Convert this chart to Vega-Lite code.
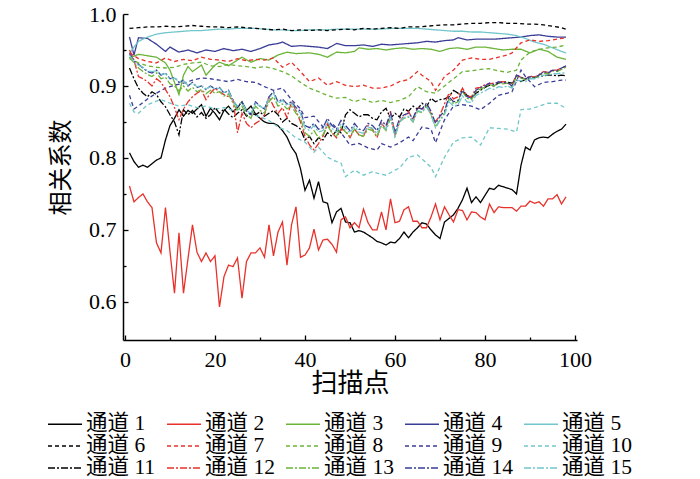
{
"$schema":"https://vega.github.io/schema/vega-lite/v6.json",
"width":454,"height":326,
"autosize":{"type":"none"},
"padding":{"left":123,"top":14,"right":123,"bottom":139},
"background":"white",
"config":{"view":{"stroke":null},
"axis":{"grid":false,"domainColor":"black","domainWidth":1.5,"tickColor":"black","tickWidth":1.3,"labelFont":"Liberation Serif","labelFontSize":22,"labelColor":"black","titleFont":"Noto Sans CJK SC","titleFontWeight":"normal","titleColor":"black"},
"legend":{"labelFont":"Liberation Serif, Noto Sans CJK SC","labelFontSize":21.5,"labelColor":"black"}},
"data":{"values":[
{"x":1,"s":1,"y":0.807},{"x":2,"s":1,"y":0.795},{"x":3,"s":1,"y":0.787},{"x":4,"s":1,"y":0.79},{"x":5,"s":1,"y":0.787},{"x":6,"s":1,"y":0.792},{"x":7,"s":1,"y":0.797},{"x":8,"s":1,"y":0.8},{"x":9,"s":1,"y":0.825},{"x":10,"s":1,"y":0.845},{"x":11,"s":1,"y":0.855},{"x":12,"s":1,"y":0.867},{"x":13,"s":1,"y":0.858},{"x":14,"s":1,"y":0.866},{"x":15,"s":1,"y":0.862},{"x":16,"s":1,"y":0.868},{"x":17,"s":1,"y":0.874},{"x":18,"s":1,"y":0.858},{"x":19,"s":1,"y":0.869},{"x":20,"s":1,"y":0.862},{"x":21,"s":1,"y":0.853},{"x":22,"s":1,"y":0.866},{"x":23,"s":1,"y":0.872},{"x":24,"s":1,"y":0.864},{"x":25,"s":1,"y":0.87},{"x":26,"s":1,"y":0.878},{"x":27,"s":1,"y":0.866},{"x":28,"s":1,"y":0.872},{"x":29,"s":1,"y":0.861},{"x":30,"s":1,"y":0.855},{"x":31,"s":1,"y":0.85},{"x":32,"s":1,"y":0.848},{"x":33,"s":1,"y":0.848},{"x":34,"s":1,"y":0.845},{"x":35,"s":1,"y":0.838},{"x":36,"s":1,"y":0.829},{"x":37,"s":1,"y":0.815},{"x":38,"s":1,"y":0.806},{"x":39,"s":1,"y":0.785},{"x":40,"s":1,"y":0.755},{"x":41,"s":1,"y":0.769},{"x":42,"s":1,"y":0.744},{"x":43,"s":1,"y":0.767},{"x":44,"s":1,"y":0.739},{"x":45,"s":1,"y":0.737},{"x":46,"s":1,"y":0.71},{"x":47,"s":1,"y":0.725},{"x":48,"s":1,"y":0.73},{"x":49,"s":1,"y":0.711},{"x":50,"s":1,"y":0.71},{"x":51,"s":1,"y":0.697},{"x":52,"s":1,"y":0.699},{"x":53,"s":1,"y":0.697},{"x":54,"s":1,"y":0.693},{"x":55,"s":1,"y":0.689},{"x":56,"s":1,"y":0.684},{"x":57,"s":1,"y":0.682},{"x":58,"s":1,"y":0.679},{"x":59,"s":1,"y":0.683},{"x":60,"s":1,"y":0.682},{"x":61,"s":1,"y":0.688},{"x":62,"s":1,"y":0.697},{"x":63,"s":1,"y":0.689},{"x":64,"s":1,"y":0.697},{"x":65,"s":1,"y":0.703},{"x":66,"s":1,"y":0.71},{"x":67,"s":1,"y":0.708},{"x":68,"s":1,"y":0.7},{"x":69,"s":1,"y":0.693},{"x":70,"s":1,"y":0.688},{"x":71,"s":1,"y":0.711},{"x":72,"s":1,"y":0.716},{"x":73,"s":1,"y":0.721},{"x":74,"s":1,"y":0.73},{"x":75,"s":1,"y":0.742},{"x":76,"s":1,"y":0.758},{"x":77,"s":1,"y":0.738},{"x":78,"s":1,"y":0.746},{"x":79,"s":1,"y":0.738},{"x":80,"s":1,"y":0.748},{"x":81,"s":1,"y":0.758},{"x":82,"s":1,"y":0.756},{"x":83,"s":1,"y":0.762},{"x":84,"s":1,"y":0.76},{"x":85,"s":1,"y":0.758},{"x":86,"s":1,"y":0.756},{"x":87,"s":1,"y":0.75},{"x":88,"s":1,"y":0.79},{"x":89,"s":1,"y":0.815},{"x":90,"s":1,"y":0.811},{"x":91,"s":1,"y":0.825},{"x":92,"s":1,"y":0.828},{"x":93,"s":1,"y":0.829},{"x":94,"s":1,"y":0.828},{"x":95,"s":1,"y":0.833},{"x":96,"s":1,"y":0.837},{"x":97,"s":1,"y":0.84},{"x":98,"s":1,"y":0.847},
{"x":1,"s":2,"y":0.761},{"x":2,"s":2,"y":0.739},{"x":3,"s":2,"y":0.745},{"x":4,"s":2,"y":0.75},{"x":5,"s":2,"y":0.739},{"x":6,"s":2,"y":0.731},{"x":7,"s":2,"y":0.682},{"x":8,"s":2,"y":0.668},{"x":9,"s":2,"y":0.731},{"x":10,"s":2,"y":0.67},{"x":11,"s":2,"y":0.612},{"x":12,"s":2,"y":0.696},{"x":13,"s":2,"y":0.612},{"x":14,"s":2,"y":0.66},{"x":15,"s":2,"y":0.707},{"x":16,"s":2,"y":0.669},{"x":17,"s":2,"y":0.656},{"x":18,"s":2,"y":0.668},{"x":19,"s":2,"y":0.656},{"x":20,"s":2,"y":0.664},{"x":21,"s":2,"y":0.593},{"x":22,"s":2,"y":0.635},{"x":23,"s":2,"y":0.651},{"x":24,"s":2,"y":0.649},{"x":25,"s":2,"y":0.661},{"x":26,"s":2,"y":0.605},{"x":27,"s":2,"y":0.656},{"x":28,"s":2,"y":0.668},{"x":29,"s":2,"y":0.668},{"x":30,"s":2,"y":0.675},{"x":31,"s":2,"y":0.662},{"x":32,"s":2,"y":0.707},{"x":33,"s":2,"y":0.664},{"x":34,"s":2,"y":0.697},{"x":35,"s":2,"y":0.711},{"x":36,"s":2,"y":0.651},{"x":37,"s":2,"y":0.707},{"x":38,"s":2,"y":0.732},{"x":39,"s":2,"y":0.662},{"x":40,"s":2,"y":0.665},{"x":41,"s":2,"y":0.675},{"x":42,"s":2,"y":0.701},{"x":43,"s":2,"y":0.672},{"x":44,"s":2,"y":0.686},{"x":45,"s":2,"y":0.687},{"x":46,"s":2,"y":0.68},{"x":47,"s":2,"y":0.669},{"x":48,"s":2,"y":0.714},{"x":49,"s":2,"y":0.718},{"x":50,"s":2,"y":0.703},{"x":51,"s":2,"y":0.71},{"x":52,"s":2,"y":0.703},{"x":53,"s":2,"y":0.729},{"x":54,"s":2,"y":0.71},{"x":55,"s":2,"y":0.7},{"x":56,"s":2,"y":0.7},{"x":57,"s":2,"y":0.725},{"x":58,"s":2,"y":0.7},{"x":59,"s":2,"y":0.743},{"x":60,"s":2,"y":0.71},{"x":61,"s":2,"y":0.712},{"x":62,"s":2,"y":0.728},{"x":63,"s":2,"y":0.732},{"x":64,"s":2,"y":0.712},{"x":65,"s":2,"y":0.712},{"x":66,"s":2,"y":0.703},{"x":67,"s":2,"y":0.703},{"x":68,"s":2,"y":0.718},{"x":69,"s":2,"y":0.736},{"x":70,"s":2,"y":0.714},{"x":71,"s":2,"y":0.732},{"x":72,"s":2,"y":0.721},{"x":73,"s":2,"y":0.711},{"x":74,"s":2,"y":0.728},{"x":75,"s":2,"y":0.727},{"x":76,"s":2,"y":0.714},{"x":77,"s":2,"y":0.725},{"x":78,"s":2,"y":0.724},{"x":79,"s":2,"y":0.718},{"x":80,"s":2,"y":0.714},{"x":81,"s":2,"y":0.736},{"x":82,"s":2,"y":0.724},{"x":83,"s":2,"y":0.732},{"x":84,"s":2,"y":0.731},{"x":85,"s":2,"y":0.731},{"x":86,"s":2,"y":0.731},{"x":87,"s":2,"y":0.726},{"x":88,"s":2,"y":0.733},{"x":89,"s":2,"y":0.733},{"x":90,"s":2,"y":0.74},{"x":91,"s":2,"y":0.737},{"x":92,"s":2,"y":0.739},{"x":93,"s":2,"y":0.733},{"x":94,"s":2,"y":0.743},{"x":95,"s":2,"y":0.743},{"x":96,"s":2,"y":0.749},{"x":97,"s":2,"y":0.736},{"x":98,"s":2,"y":0.746},
{"x":1,"s":3,"y":0.939},{"x":3,"s":3,"y":0.944},{"x":5,"s":3,"y":0.942},{"x":7,"s":3,"y":0.94},{"x":9,"s":3,"y":0.932},{"x":10,"s":3,"y":0.922},{"x":11,"s":3,"y":0.905},{"x":12,"s":3,"y":0.888},{"x":13,"s":3,"y":0.915},{"x":14,"s":3,"y":0.927},{"x":15,"s":3,"y":0.92},{"x":17,"s":3,"y":0.929},{"x":18,"s":3,"y":0.915},{"x":20,"s":3,"y":0.929},{"x":21,"s":3,"y":0.933},{"x":23,"s":3,"y":0.928},{"x":25,"s":3,"y":0.936},{"x":26,"s":3,"y":0.94},{"x":28,"s":3,"y":0.933},{"x":30,"s":3,"y":0.938},{"x":32,"s":3,"y":0.936},{"x":34,"s":3,"y":0.943},{"x":36,"s":3,"y":0.947},{"x":38,"s":3,"y":0.945},{"x":41,"s":3,"y":0.946},{"x":43,"s":3,"y":0.944},{"x":45,"s":3,"y":0.94},{"x":47,"s":3,"y":0.947},{"x":49,"s":3,"y":0.946},{"x":51,"s":3,"y":0.948},{"x":52,"s":3,"y":0.953},{"x":54,"s":3,"y":0.951},{"x":56,"s":3,"y":0.952},{"x":58,"s":3,"y":0.95},{"x":60,"s":3,"y":0.952},{"x":62,"s":3,"y":0.953},{"x":64,"s":3,"y":0.951},{"x":66,"s":3,"y":0.952},{"x":68,"s":3,"y":0.951},{"x":70,"s":3,"y":0.948},{"x":72,"s":3,"y":0.952},{"x":74,"s":3,"y":0.953},{"x":76,"s":3,"y":0.951},{"x":78,"s":3,"y":0.954},{"x":80,"s":3,"y":0.954},{"x":82,"s":3,"y":0.952},{"x":84,"s":3,"y":0.95},{"x":86,"s":3,"y":0.951},{"x":88,"s":3,"y":0.951},{"x":90,"s":3,"y":0.946},{"x":92,"s":3,"y":0.951},{"x":94,"s":3,"y":0.948},{"x":96,"s":3,"y":0.94},{"x":98,"s":3,"y":0.937},
{"x":1,"s":4,"y":0.968},{"x":2,"s":4,"y":0.943},{"x":3,"s":4,"y":0.967},{"x":5,"s":4,"y":0.966},{"x":7,"s":4,"y":0.958},{"x":9,"s":4,"y":0.948},{"x":10,"s":4,"y":0.954},{"x":12,"s":4,"y":0.947},{"x":14,"s":4,"y":0.95},{"x":16,"s":4,"y":0.946},{"x":18,"s":4,"y":0.95},{"x":20,"s":4,"y":0.948},{"x":22,"s":4,"y":0.952},{"x":24,"s":4,"y":0.949},{"x":26,"s":4,"y":0.951},{"x":28,"s":4,"y":0.948},{"x":30,"s":4,"y":0.952},{"x":32,"s":4,"y":0.957},{"x":34,"s":4,"y":0.959},{"x":35,"s":4,"y":0.961},{"x":37,"s":4,"y":0.955},{"x":39,"s":4,"y":0.956},{"x":41,"s":4,"y":0.955},{"x":43,"s":4,"y":0.954},{"x":45,"s":4,"y":0.952},{"x":47,"s":4,"y":0.959},{"x":49,"s":4,"y":0.956},{"x":51,"s":4,"y":0.956},{"x":53,"s":4,"y":0.957},{"x":55,"s":4,"y":0.955},{"x":57,"s":4,"y":0.958},{"x":59,"s":4,"y":0.957},{"x":61,"s":4,"y":0.958},{"x":63,"s":4,"y":0.959},{"x":65,"s":4,"y":0.96},{"x":67,"s":4,"y":0.962},{"x":69,"s":4,"y":0.961},{"x":71,"s":4,"y":0.963},{"x":73,"s":4,"y":0.964},{"x":74,"s":4,"y":0.967},{"x":76,"s":4,"y":0.964},{"x":78,"s":4,"y":0.965},{"x":80,"s":4,"y":0.965},{"x":82,"s":4,"y":0.965},{"x":84,"s":4,"y":0.966},{"x":86,"s":4,"y":0.967},{"x":88,"s":4,"y":0.968},{"x":90,"s":4,"y":0.97},{"x":92,"s":4,"y":0.971},{"x":94,"s":4,"y":0.969},{"x":96,"s":4,"y":0.968},{"x":98,"s":4,"y":0.968},
{"x":1,"s":5,"y":0.945},{"x":2,"s":5,"y":0.954},{"x":3,"s":5,"y":0.962},{"x":5,"s":5,"y":0.968},{"x":7,"s":5,"y":0.972},{"x":9,"s":5,"y":0.974},{"x":11,"s":5,"y":0.975},{"x":13,"s":5,"y":0.976},{"x":15,"s":5,"y":0.977},{"x":17,"s":5,"y":0.977},{"x":19,"s":5,"y":0.978},{"x":21,"s":5,"y":0.979},{"x":23,"s":5,"y":0.979},{"x":25,"s":5,"y":0.98},{"x":27,"s":5,"y":0.98},{"x":29,"s":5,"y":0.98},{"x":31,"s":5,"y":0.979},{"x":33,"s":5,"y":0.978},{"x":35,"s":5,"y":0.978},{"x":37,"s":5,"y":0.977},{"x":39,"s":5,"y":0.977},{"x":41,"s":5,"y":0.978},{"x":43,"s":5,"y":0.978},{"x":45,"s":5,"y":0.978},{"x":47,"s":5,"y":0.979},{"x":49,"s":5,"y":0.979},{"x":51,"s":5,"y":0.979},{"x":53,"s":5,"y":0.979},{"x":55,"s":5,"y":0.979},{"x":57,"s":5,"y":0.979},{"x":59,"s":5,"y":0.98},{"x":61,"s":5,"y":0.98},{"x":63,"s":5,"y":0.98},{"x":65,"s":5,"y":0.98},{"x":67,"s":5,"y":0.979},{"x":69,"s":5,"y":0.978},{"x":71,"s":5,"y":0.977},{"x":73,"s":5,"y":0.976},{"x":75,"s":5,"y":0.976},{"x":77,"s":5,"y":0.975},{"x":79,"s":5,"y":0.975},{"x":81,"s":5,"y":0.974},{"x":83,"s":5,"y":0.973},{"x":85,"s":5,"y":0.972},{"x":87,"s":5,"y":0.97},{"x":89,"s":5,"y":0.966},{"x":91,"s":5,"y":0.961},{"x":93,"s":5,"y":0.958},{"x":95,"s":5,"y":0.953},{"x":97,"s":5,"y":0.948},{"x":98,"s":5,"y":0.946},
{"x":1,"s":6,"y":0.98},{"x":3,"s":6,"y":0.981},{"x":5,"s":6,"y":0.982},{"x":7,"s":6,"y":0.982},{"x":9,"s":6,"y":0.983},{"x":11,"s":6,"y":0.982},{"x":13,"s":6,"y":0.983},{"x":15,"s":6,"y":0.984},{"x":17,"s":6,"y":0.983},{"x":19,"s":6,"y":0.982},{"x":21,"s":6,"y":0.982},{"x":23,"s":6,"y":0.981},{"x":25,"s":6,"y":0.982},{"x":27,"s":6,"y":0.981},{"x":29,"s":6,"y":0.98},{"x":31,"s":6,"y":0.979},{"x":33,"s":6,"y":0.978},{"x":35,"s":6,"y":0.979},{"x":37,"s":6,"y":0.977},{"x":39,"s":6,"y":0.978},{"x":41,"s":6,"y":0.977},{"x":43,"s":6,"y":0.978},{"x":45,"s":6,"y":0.977},{"x":47,"s":6,"y":0.978},{"x":49,"s":6,"y":0.979},{"x":51,"s":6,"y":0.978},{"x":53,"s":6,"y":0.98},{"x":55,"s":6,"y":0.979},{"x":57,"s":6,"y":0.98},{"x":59,"s":6,"y":0.981},{"x":61,"s":6,"y":0.98},{"x":63,"s":6,"y":0.982},{"x":65,"s":6,"y":0.982},{"x":67,"s":6,"y":0.983},{"x":69,"s":6,"y":0.984},{"x":71,"s":6,"y":0.985},{"x":73,"s":6,"y":0.985},{"x":75,"s":6,"y":0.986},{"x":77,"s":6,"y":0.987},{"x":79,"s":6,"y":0.987},{"x":81,"s":6,"y":0.988},{"x":83,"s":6,"y":0.988},{"x":85,"s":6,"y":0.987},{"x":87,"s":6,"y":0.987},{"x":89,"s":6,"y":0.986},{"x":91,"s":6,"y":0.986},{"x":93,"s":6,"y":0.985},{"x":95,"s":6,"y":0.983},{"x":97,"s":6,"y":0.981},{"x":98,"s":6,"y":0.979},
{"x":1,"s":7,"y":0.946},{"x":3,"s":7,"y":0.938},{"x":5,"s":7,"y":0.934},{"x":7,"s":7,"y":0.932},{"x":9,"s":7,"y":0.939},{"x":11,"s":7,"y":0.934},{"x":13,"s":7,"y":0.937},{"x":15,"s":7,"y":0.935},{"x":17,"s":7,"y":0.94},{"x":19,"s":7,"y":0.937},{"x":21,"s":7,"y":0.936},{"x":23,"s":7,"y":0.934},{"x":25,"s":7,"y":0.938},{"x":27,"s":7,"y":0.935},{"x":29,"s":7,"y":0.937},{"x":31,"s":7,"y":0.936},{"x":33,"s":7,"y":0.939},{"x":35,"s":7,"y":0.926},{"x":37,"s":7,"y":0.933},{"x":39,"s":7,"y":0.92},{"x":41,"s":7,"y":0.906},{"x":43,"s":7,"y":0.911},{"x":45,"s":7,"y":0.901},{"x":47,"s":7,"y":0.906},{"x":49,"s":7,"y":0.901},{"x":51,"s":7,"y":0.899},{"x":53,"s":7,"y":0.901},{"x":55,"s":7,"y":0.897},{"x":57,"s":7,"y":0.897},{"x":59,"s":7,"y":0.9},{"x":61,"s":7,"y":0.906},{"x":63,"s":7,"y":0.909},{"x":65,"s":7,"y":0.92},{"x":66,"s":7,"y":0.915},{"x":68,"s":7,"y":0.906},{"x":69,"s":7,"y":0.894},{"x":71,"s":7,"y":0.913},{"x":73,"s":7,"y":0.922},{"x":75,"s":7,"y":0.936},{"x":77,"s":7,"y":0.939},{"x":79,"s":7,"y":0.937},{"x":81,"s":7,"y":0.937},{"x":83,"s":7,"y":0.94},{"x":85,"s":7,"y":0.943},{"x":86,"s":7,"y":0.946},{"x":88,"s":7,"y":0.96},{"x":90,"s":7,"y":0.964},{"x":92,"s":7,"y":0.962},{"x":94,"s":7,"y":0.963},{"x":96,"s":7,"y":0.965},{"x":98,"s":7,"y":0.967},
{"x":1,"s":8,"y":0.938},{"x":3,"s":8,"y":0.932},{"x":5,"s":8,"y":0.928},{"x":7,"s":8,"y":0.926},{"x":9,"s":8,"y":0.925},{"x":11,"s":8,"y":0.926},{"x":13,"s":8,"y":0.93},{"x":15,"s":8,"y":0.932},{"x":17,"s":8,"y":0.933},{"x":19,"s":8,"y":0.928},{"x":21,"s":8,"y":0.927},{"x":23,"s":8,"y":0.93},{"x":25,"s":8,"y":0.928},{"x":27,"s":8,"y":0.927},{"x":29,"s":8,"y":0.925},{"x":31,"s":8,"y":0.927},{"x":33,"s":8,"y":0.924},{"x":35,"s":8,"y":0.92},{"x":37,"s":8,"y":0.914},{"x":39,"s":8,"y":0.905},{"x":41,"s":8,"y":0.897},{"x":43,"s":8,"y":0.892},{"x":45,"s":8,"y":0.887},{"x":47,"s":8,"y":0.883},{"x":49,"s":8,"y":0.884},{"x":51,"s":8,"y":0.878},{"x":53,"s":8,"y":0.882},{"x":55,"s":8,"y":0.877},{"x":57,"s":8,"y":0.88},{"x":59,"s":8,"y":0.877},{"x":61,"s":8,"y":0.88},{"x":63,"s":8,"y":0.885},{"x":65,"s":8,"y":0.899},{"x":67,"s":8,"y":0.892},{"x":69,"s":8,"y":0.89},{"x":71,"s":8,"y":0.9},{"x":73,"s":8,"y":0.91},{"x":75,"s":8,"y":0.92},{"x":77,"s":8,"y":0.921},{"x":79,"s":8,"y":0.923},{"x":81,"s":8,"y":0.924},{"x":83,"s":8,"y":0.921},{"x":85,"s":8,"y":0.919},{"x":87,"s":8,"y":0.922},{"x":88,"s":8,"y":0.936},{"x":90,"s":8,"y":0.947},{"x":92,"s":8,"y":0.951},{"x":94,"s":8,"y":0.953},{"x":96,"s":8,"y":0.954},{"x":98,"s":8,"y":0.957},
{"x":1,"s":9,"y":0.887},{"x":2,"s":9,"y":0.868},{"x":3,"s":9,"y":0.872},{"x":5,"s":9,"y":0.882},{"x":7,"s":9,"y":0.89},{"x":9,"s":9,"y":0.897},{"x":11,"s":9,"y":0.901},{"x":13,"s":9,"y":0.904},{"x":15,"s":9,"y":0.908},{"x":17,"s":9,"y":0.911},{"x":19,"s":9,"y":0.91},{"x":21,"s":9,"y":0.908},{"x":23,"s":9,"y":0.906},{"x":25,"s":9,"y":0.909},{"x":27,"s":9,"y":0.906},{"x":29,"s":9,"y":0.905},{"x":31,"s":9,"y":0.899},{"x":33,"s":9,"y":0.894},{"x":35,"s":9,"y":0.897},{"x":37,"s":9,"y":0.881},{"x":39,"s":9,"y":0.868},{"x":40,"s":9,"y":0.856},{"x":42,"s":9,"y":0.858},{"x":44,"s":9,"y":0.843},{"x":46,"s":9,"y":0.848},{"x":48,"s":9,"y":0.835},{"x":50,"s":9,"y":0.818},{"x":52,"s":9,"y":0.82},{"x":54,"s":9,"y":0.814},{"x":56,"s":9,"y":0.811},{"x":57,"s":9,"y":0.82},{"x":59,"s":9,"y":0.815},{"x":61,"s":9,"y":0.821},{"x":63,"s":9,"y":0.829},{"x":64,"s":9,"y":0.824},{"x":66,"s":9,"y":0.843},{"x":68,"s":9,"y":0.84},{"x":69,"s":9,"y":0.821},{"x":71,"s":9,"y":0.853},{"x":73,"s":9,"y":0.872},{"x":75,"s":9,"y":0.874},{"x":77,"s":9,"y":0.872},{"x":79,"s":9,"y":0.867},{"x":81,"s":9,"y":0.876},{"x":83,"s":9,"y":0.887},{"x":85,"s":9,"y":0.89},{"x":86,"s":9,"y":0.892},{"x":88,"s":9,"y":0.922},{"x":89,"s":9,"y":0.913},{"x":91,"s":9,"y":0.899},{"x":93,"s":9,"y":0.905},{"x":95,"s":9,"y":0.906},{"x":97,"s":9,"y":0.908},{"x":98,"s":9,"y":0.908},
{"x":1,"s":10,"y":0.876},{"x":2,"s":10,"y":0.864},{"x":3,"s":10,"y":0.862},{"x":4,"s":10,"y":0.868},{"x":5,"s":10,"y":0.874},{"x":7,"s":10,"y":0.879},{"x":8,"s":10,"y":0.881},{"x":10,"s":10,"y":0.876},{"x":12,"s":10,"y":0.872},{"x":14,"s":10,"y":0.874},{"x":16,"s":10,"y":0.87},{"x":18,"s":10,"y":0.872},{"x":20,"s":10,"y":0.868},{"x":22,"s":10,"y":0.87},{"x":24,"s":10,"y":0.866},{"x":26,"s":10,"y":0.868},{"x":28,"s":10,"y":0.862},{"x":30,"s":10,"y":0.857},{"x":32,"s":10,"y":0.852},{"x":34,"s":10,"y":0.843},{"x":36,"s":10,"y":0.838},{"x":38,"s":10,"y":0.828},{"x":40,"s":10,"y":0.822},{"x":42,"s":10,"y":0.808},{"x":43,"s":10,"y":0.815},{"x":45,"s":10,"y":0.801},{"x":47,"s":10,"y":0.795},{"x":48,"s":10,"y":0.793},{"x":49,"s":10,"y":0.774},{"x":51,"s":10,"y":0.783},{"x":53,"s":10,"y":0.776},{"x":55,"s":10,"y":0.781},{"x":56,"s":10,"y":0.779},{"x":58,"s":10,"y":0.776},{"x":60,"s":10,"y":0.783},{"x":61,"s":10,"y":0.786},{"x":63,"s":10,"y":0.801},{"x":65,"s":10,"y":0.804},{"x":67,"s":10,"y":0.793},{"x":68,"s":10,"y":0.787},{"x":69,"s":10,"y":0.774},{"x":71,"s":10,"y":0.801},{"x":73,"s":10,"y":0.822},{"x":75,"s":10,"y":0.828},{"x":77,"s":10,"y":0.829},{"x":79,"s":10,"y":0.818},{"x":81,"s":10,"y":0.842},{"x":83,"s":10,"y":0.841},{"x":85,"s":10,"y":0.84},{"x":87,"s":10,"y":0.836},{"x":88,"s":10,"y":0.867},{"x":90,"s":10,"y":0.868},{"x":92,"s":10,"y":0.872},{"x":94,"s":10,"y":0.876},{"x":96,"s":10,"y":0.876},{"x":98,"s":10,"y":0.869},
{"x":1,"s":11,"y":0.925},{"x":2,"s":11,"y":0.91},{"x":3,"s":11,"y":0.897},{"x":4,"s":11,"y":0.89},{"x":5,"s":11,"y":0.885},{"x":6,"s":11,"y":0.892},{"x":7,"s":11,"y":0.888},{"x":8,"s":11,"y":0.878},{"x":9,"s":11,"y":0.871},{"x":10,"s":11,"y":0.86},{"x":11,"s":11,"y":0.85},{"x":12,"s":11,"y":0.832},{"x":13,"s":11,"y":0.867},{"x":14,"s":11,"y":0.86},{"x":15,"s":11,"y":0.866},{"x":16,"s":11,"y":0.857},{"x":17,"s":11,"y":0.863},{"x":18,"s":11,"y":0.855},{"x":19,"s":11,"y":0.86},{"x":20,"s":11,"y":0.87},{"x":21,"s":11,"y":0.862},{"x":22,"s":11,"y":0.868},{"x":23,"s":11,"y":0.861},{"x":24,"s":11,"y":0.856},{"x":25,"s":11,"y":0.862},{"x":26,"s":11,"y":0.867},{"x":27,"s":11,"y":0.858},{"x":28,"s":11,"y":0.862},{"x":29,"s":11,"y":0.86},{"x":30,"s":11,"y":0.864},{"x":31,"s":11,"y":0.858},{"x":32,"s":11,"y":0.862},{"x":33,"s":11,"y":0.866},{"x":34,"s":11,"y":0.86},{"x":35,"s":11,"y":0.85},{"x":36,"s":11,"y":0.855},{"x":37,"s":11,"y":0.848},{"x":38,"s":11,"y":0.845},{"x":39,"s":11,"y":0.84},{"x":40,"s":11,"y":0.825},{"x":41,"s":11,"y":0.83},{"x":42,"s":11,"y":0.82},{"x":43,"s":11,"y":0.828},{"x":44,"s":11,"y":0.825},{"x":45,"s":11,"y":0.835},{"x":46,"s":11,"y":0.83},{"x":47,"s":11,"y":0.838},{"x":48,"s":11,"y":0.835},{"x":49,"s":11,"y":0.86},{"x":50,"s":11,"y":0.867},{"x":51,"s":11,"y":0.862},{"x":52,"s":11,"y":0.857},{"x":53,"s":11,"y":0.86},{"x":54,"s":11,"y":0.86},{"x":55,"s":11,"y":0.855},{"x":56,"s":11,"y":0.853},{"x":57,"s":11,"y":0.864},{"x":58,"s":11,"y":0.869},{"x":59,"s":11,"y":0.855},{"x":60,"s":11,"y":0.862},{"x":61,"s":11,"y":0.857},{"x":62,"s":11,"y":0.868},{"x":63,"s":11,"y":0.865},{"x":64,"s":11,"y":0.872},{"x":65,"s":11,"y":0.868},{"x":66,"s":11,"y":0.876},{"x":67,"s":11,"y":0.871},{"x":68,"s":11,"y":0.883},{"x":69,"s":11,"y":0.878},{"x":70,"s":11,"y":0.881},{"x":71,"s":11,"y":0.882},{"x":72,"s":11,"y":0.885},{"x":73,"s":11,"y":0.894},{"x":74,"s":11,"y":0.89},{"x":75,"s":11,"y":0.893},{"x":76,"s":11,"y":0.887},{"x":77,"s":11,"y":0.883},{"x":78,"s":11,"y":0.89},{"x":79,"s":11,"y":0.894},{"x":80,"s":11,"y":0.898},{"x":81,"s":11,"y":0.901},{"x":82,"s":11,"y":0.9},{"x":83,"s":11,"y":0.904},{"x":84,"s":11,"y":0.906},{"x":85,"s":11,"y":0.905},{"x":86,"s":11,"y":0.904},{"x":87,"s":11,"y":0.908},{"x":88,"s":11,"y":0.906},{"x":89,"s":11,"y":0.909},{"x":90,"s":11,"y":0.911},{"x":91,"s":11,"y":0.912},{"x":92,"s":11,"y":0.913},{"x":93,"s":11,"y":0.914},{"x":94,"s":11,"y":0.915},{"x":95,"s":11,"y":0.915},{"x":96,"s":11,"y":0.914},{"x":97,"s":11,"y":0.915},{"x":98,"s":11,"y":0.914},
{"x":1,"s":12,"y":0.95},{"x":2,"s":12,"y":0.936},{"x":3,"s":12,"y":0.913},{"x":4,"s":12,"y":0.91},{"x":5,"s":12,"y":0.906},{"x":6,"s":12,"y":0.9},{"x":7,"s":12,"y":0.91},{"x":8,"s":12,"y":0.905},{"x":9,"s":12,"y":0.895},{"x":10,"s":12,"y":0.885},{"x":11,"s":12,"y":0.87},{"x":12,"s":12,"y":0.853},{"x":13,"s":12,"y":0.868},{"x":14,"s":12,"y":0.878},{"x":15,"s":12,"y":0.885},{"x":16,"s":12,"y":0.89},{"x":17,"s":12,"y":0.894},{"x":18,"s":12,"y":0.881},{"x":19,"s":12,"y":0.89},{"x":20,"s":12,"y":0.897},{"x":21,"s":12,"y":0.892},{"x":22,"s":12,"y":0.888},{"x":23,"s":12,"y":0.885},{"x":24,"s":12,"y":0.881},{"x":25,"s":12,"y":0.835},{"x":26,"s":12,"y":0.862},{"x":27,"s":12,"y":0.848},{"x":28,"s":12,"y":0.842},{"x":29,"s":12,"y":0.848},{"x":30,"s":12,"y":0.852},{"x":31,"s":12,"y":0.86},{"x":32,"s":12,"y":0.885},{"x":33,"s":12,"y":0.872},{"x":34,"s":12,"y":0.862},{"x":35,"s":12,"y":0.87},{"x":36,"s":12,"y":0.856},{"x":37,"s":12,"y":0.878},{"x":38,"s":12,"y":0.866},{"x":39,"s":12,"y":0.85},{"x":40,"s":12,"y":0.83},{"x":41,"s":12,"y":0.818},{"x":42,"s":12,"y":0.811},{"x":43,"s":12,"y":0.82},{"x":44,"s":12,"y":0.83},{"x":45,"s":12,"y":0.848},{"x":46,"s":12,"y":0.835},{"x":47,"s":12,"y":0.828},{"x":48,"s":12,"y":0.84},{"x":49,"s":12,"y":0.838},{"x":50,"s":12,"y":0.828},{"x":51,"s":12,"y":0.84},{"x":52,"s":12,"y":0.832},{"x":53,"s":12,"y":0.83},{"x":54,"s":12,"y":0.845},{"x":55,"s":12,"y":0.84},{"x":56,"s":12,"y":0.828},{"x":57,"s":12,"y":0.848},{"x":58,"s":12,"y":0.84},{"x":59,"s":12,"y":0.865},{"x":60,"s":12,"y":0.832},{"x":61,"s":12,"y":0.85},{"x":62,"s":12,"y":0.858},{"x":63,"s":12,"y":0.865},{"x":64,"s":12,"y":0.852},{"x":65,"s":12,"y":0.87},{"x":66,"s":12,"y":0.868},{"x":67,"s":12,"y":0.872},{"x":68,"s":12,"y":0.862},{"x":69,"s":12,"y":0.85},{"x":70,"s":12,"y":0.86},{"x":71,"s":12,"y":0.875},{"x":72,"s":12,"y":0.89},{"x":73,"s":12,"y":0.882},{"x":74,"s":12,"y":0.885},{"x":75,"s":12,"y":0.897},{"x":76,"s":12,"y":0.886},{"x":77,"s":12,"y":0.885},{"x":78,"s":12,"y":0.897},{"x":79,"s":12,"y":0.898},{"x":80,"s":12,"y":0.902},{"x":81,"s":12,"y":0.903},{"x":82,"s":12,"y":0.904},{"x":83,"s":12,"y":0.905},{"x":84,"s":12,"y":0.906},{"x":85,"s":12,"y":0.904},{"x":86,"s":12,"y":0.902},{"x":87,"s":12,"y":0.915},{"x":88,"s":12,"y":0.912},{"x":89,"s":12,"y":0.91},{"x":90,"s":12,"y":0.914},{"x":91,"s":12,"y":0.912},{"x":92,"s":12,"y":0.916},{"x":93,"s":12,"y":0.92},{"x":94,"s":12,"y":0.919},{"x":95,"s":12,"y":0.922},{"x":96,"s":12,"y":0.922},{"x":97,"s":12,"y":0.925},{"x":98,"s":12,"y":0.927},
{"x":1,"s":13,"y":0.94},{"x":2,"s":13,"y":0.932},{"x":3,"s":13,"y":0.925},{"x":4,"s":13,"y":0.92},{"x":5,"s":13,"y":0.916},{"x":6,"s":13,"y":0.913},{"x":7,"s":13,"y":0.918},{"x":8,"s":13,"y":0.91},{"x":9,"s":13,"y":0.912},{"x":10,"s":13,"y":0.903},{"x":11,"s":13,"y":0.9},{"x":12,"s":13,"y":0.893},{"x":13,"s":13,"y":0.9},{"x":14,"s":13,"y":0.893},{"x":15,"s":13,"y":0.898},{"x":16,"s":13,"y":0.892},{"x":17,"s":13,"y":0.895},{"x":18,"s":13,"y":0.889},{"x":19,"s":13,"y":0.894},{"x":20,"s":13,"y":0.89},{"x":21,"s":13,"y":0.892},{"x":22,"s":13,"y":0.886},{"x":23,"s":13,"y":0.889},{"x":24,"s":13,"y":0.876},{"x":25,"s":13,"y":0.866},{"x":26,"s":13,"y":0.872},{"x":27,"s":13,"y":0.86},{"x":28,"s":13,"y":0.855},{"x":29,"s":13,"y":0.872},{"x":30,"s":13,"y":0.866},{"x":31,"s":13,"y":0.862},{"x":32,"s":13,"y":0.878},{"x":33,"s":13,"y":0.885},{"x":34,"s":13,"y":0.872},{"x":35,"s":13,"y":0.875},{"x":36,"s":13,"y":0.868},{"x":37,"s":13,"y":0.872},{"x":38,"s":13,"y":0.862},{"x":39,"s":13,"y":0.855},{"x":40,"s":13,"y":0.835},{"x":41,"s":13,"y":0.83},{"x":42,"s":13,"y":0.838},{"x":43,"s":13,"y":0.828},{"x":44,"s":13,"y":0.832},{"x":45,"s":13,"y":0.845},{"x":46,"s":13,"y":0.835},{"x":47,"s":13,"y":0.83},{"x":48,"s":13,"y":0.843},{"x":49,"s":13,"y":0.836},{"x":50,"s":13,"y":0.83},{"x":51,"s":13,"y":0.84},{"x":52,"s":13,"y":0.832},{"x":53,"s":13,"y":0.83},{"x":54,"s":13,"y":0.84},{"x":55,"s":13,"y":0.838},{"x":56,"s":13,"y":0.83},{"x":57,"s":13,"y":0.845},{"x":58,"s":13,"y":0.838},{"x":59,"s":13,"y":0.855},{"x":60,"s":13,"y":0.83},{"x":61,"s":13,"y":0.85},{"x":62,"s":13,"y":0.855},{"x":63,"s":13,"y":0.857},{"x":64,"s":13,"y":0.85},{"x":65,"s":13,"y":0.865},{"x":66,"s":13,"y":0.863},{"x":67,"s":13,"y":0.872},{"x":68,"s":13,"y":0.86},{"x":69,"s":13,"y":0.843},{"x":70,"s":13,"y":0.853},{"x":71,"s":13,"y":0.862},{"x":72,"s":13,"y":0.882},{"x":73,"s":13,"y":0.875},{"x":74,"s":13,"y":0.878},{"x":75,"s":13,"y":0.892},{"x":76,"s":13,"y":0.883},{"x":77,"s":13,"y":0.881},{"x":78,"s":13,"y":0.892},{"x":79,"s":13,"y":0.896},{"x":80,"s":13,"y":0.898},{"x":81,"s":13,"y":0.902},{"x":82,"s":13,"y":0.9},{"x":83,"s":13,"y":0.904},{"x":84,"s":13,"y":0.903},{"x":85,"s":13,"y":0.904},{"x":86,"s":13,"y":0.899},{"x":87,"s":13,"y":0.913},{"x":88,"s":13,"y":0.911},{"x":89,"s":13,"y":0.909},{"x":90,"s":13,"y":0.912},{"x":91,"s":13,"y":0.911},{"x":92,"s":13,"y":0.914},{"x":93,"s":13,"y":0.918},{"x":94,"s":13,"y":0.917},{"x":95,"s":13,"y":0.921},{"x":96,"s":13,"y":0.92},{"x":97,"s":13,"y":0.923},{"x":98,"s":13,"y":0.926},
{"x":1,"s":14,"y":0.945},{"x":2,"s":14,"y":0.935},{"x":3,"s":14,"y":0.93},{"x":4,"s":14,"y":0.925},{"x":5,"s":14,"y":0.92},{"x":6,"s":14,"y":0.918},{"x":7,"s":14,"y":0.922},{"x":8,"s":14,"y":0.915},{"x":9,"s":14,"y":0.918},{"x":10,"s":14,"y":0.91},{"x":11,"s":14,"y":0.912},{"x":12,"s":14,"y":0.905},{"x":13,"s":14,"y":0.908},{"x":14,"s":14,"y":0.9},{"x":15,"s":14,"y":0.905},{"x":16,"s":14,"y":0.898},{"x":17,"s":14,"y":0.9},{"x":18,"s":14,"y":0.895},{"x":19,"s":14,"y":0.9},{"x":20,"s":14,"y":0.896},{"x":21,"s":14,"y":0.898},{"x":22,"s":14,"y":0.89},{"x":23,"s":14,"y":0.894},{"x":24,"s":14,"y":0.88},{"x":25,"s":14,"y":0.871},{"x":26,"s":14,"y":0.878},{"x":27,"s":14,"y":0.865},{"x":28,"s":14,"y":0.86},{"x":29,"s":14,"y":0.878},{"x":30,"s":14,"y":0.872},{"x":31,"s":14,"y":0.868},{"x":32,"s":14,"y":0.885},{"x":33,"s":14,"y":0.892},{"x":34,"s":14,"y":0.878},{"x":35,"s":14,"y":0.882},{"x":36,"s":14,"y":0.875},{"x":37,"s":14,"y":0.878},{"x":38,"s":14,"y":0.87},{"x":39,"s":14,"y":0.865},{"x":40,"s":14,"y":0.845},{"x":41,"s":14,"y":0.842},{"x":42,"s":14,"y":0.848},{"x":43,"s":14,"y":0.84},{"x":44,"s":14,"y":0.842},{"x":45,"s":14,"y":0.855},{"x":46,"s":14,"y":0.845},{"x":47,"s":14,"y":0.84},{"x":48,"s":14,"y":0.852},{"x":49,"s":14,"y":0.845},{"x":50,"s":14,"y":0.838},{"x":51,"s":14,"y":0.848},{"x":52,"s":14,"y":0.84},{"x":53,"s":14,"y":0.838},{"x":54,"s":14,"y":0.848},{"x":55,"s":14,"y":0.845},{"x":56,"s":14,"y":0.838},{"x":57,"s":14,"y":0.852},{"x":58,"s":14,"y":0.845},{"x":59,"s":14,"y":0.862},{"x":60,"s":14,"y":0.835},{"x":61,"s":14,"y":0.855},{"x":62,"s":14,"y":0.86},{"x":63,"s":14,"y":0.862},{"x":64,"s":14,"y":0.855},{"x":65,"s":14,"y":0.87},{"x":66,"s":14,"y":0.868},{"x":67,"s":14,"y":0.876},{"x":68,"s":14,"y":0.865},{"x":69,"s":14,"y":0.848},{"x":70,"s":14,"y":0.858},{"x":71,"s":14,"y":0.865},{"x":72,"s":14,"y":0.885},{"x":73,"s":14,"y":0.878},{"x":74,"s":14,"y":0.88},{"x":75,"s":14,"y":0.894},{"x":76,"s":14,"y":0.885},{"x":77,"s":14,"y":0.883},{"x":78,"s":14,"y":0.894},{"x":79,"s":14,"y":0.898},{"x":80,"s":14,"y":0.9},{"x":81,"s":14,"y":0.904},{"x":82,"s":14,"y":0.902},{"x":83,"s":14,"y":0.906},{"x":84,"s":14,"y":0.904},{"x":85,"s":14,"y":0.905},{"x":86,"s":14,"y":0.9},{"x":87,"s":14,"y":0.915},{"x":88,"s":14,"y":0.912},{"x":89,"s":14,"y":0.91},{"x":90,"s":14,"y":0.913},{"x":91,"s":14,"y":0.912},{"x":92,"s":14,"y":0.915},{"x":93,"s":14,"y":0.92},{"x":94,"s":14,"y":0.918},{"x":95,"s":14,"y":0.922},{"x":96,"s":14,"y":0.921},{"x":97,"s":14,"y":0.925},{"x":98,"s":14,"y":0.928},
{"x":1,"s":15,"y":0.943},{"x":2,"s":15,"y":0.934},{"x":3,"s":15,"y":0.929},{"x":4,"s":15,"y":0.926},{"x":5,"s":15,"y":0.921},{"x":6,"s":15,"y":0.92},{"x":7,"s":15,"y":0.921},{"x":8,"s":15,"y":0.916},{"x":9,"s":15,"y":0.917},{"x":10,"s":15,"y":0.91},{"x":11,"s":15,"y":0.911},{"x":12,"s":15,"y":0.906},{"x":13,"s":15,"y":0.907},{"x":14,"s":15,"y":0.901},{"x":15,"s":15,"y":0.904},{"x":16,"s":15,"y":0.899},{"x":17,"s":15,"y":0.9},{"x":18,"s":15,"y":0.896},{"x":19,"s":15,"y":0.899},{"x":20,"s":15,"y":0.896},{"x":21,"s":15,"y":0.897},{"x":22,"s":15,"y":0.891},{"x":23,"s":15,"y":0.893},{"x":24,"s":15,"y":0.879},{"x":25,"s":15,"y":0.872},{"x":26,"s":15,"y":0.877},{"x":27,"s":15,"y":0.866},{"x":28,"s":15,"y":0.862},{"x":29,"s":15,"y":0.876},{"x":30,"s":15,"y":0.872},{"x":31,"s":15,"y":0.868},{"x":32,"s":15,"y":0.883},{"x":33,"s":15,"y":0.89},{"x":34,"s":15,"y":0.876},{"x":35,"s":15,"y":0.88},{"x":36,"s":15,"y":0.873},{"x":37,"s":15,"y":0.876},{"x":38,"s":15,"y":0.868},{"x":39,"s":15,"y":0.862},{"x":40,"s":15,"y":0.842},{"x":41,"s":15,"y":0.838},{"x":42,"s":15,"y":0.845},{"x":43,"s":15,"y":0.836},{"x":44,"s":15,"y":0.838},{"x":45,"s":15,"y":0.85},{"x":46,"s":15,"y":0.841},{"x":47,"s":15,"y":0.836},{"x":48,"s":15,"y":0.848},{"x":49,"s":15,"y":0.841},{"x":50,"s":15,"y":0.835},{"x":51,"s":15,"y":0.844},{"x":52,"s":15,"y":0.836},{"x":53,"s":15,"y":0.834},{"x":54,"s":15,"y":0.843},{"x":55,"s":15,"y":0.841},{"x":56,"s":15,"y":0.834},{"x":57,"s":15,"y":0.847},{"x":58,"s":15,"y":0.84},{"x":59,"s":15,"y":0.857},{"x":60,"s":15,"y":0.83},{"x":61,"s":15,"y":0.85},{"x":62,"s":15,"y":0.856},{"x":63,"s":15,"y":0.858},{"x":64,"s":15,"y":0.851},{"x":65,"s":15,"y":0.866},{"x":66,"s":15,"y":0.864},{"x":67,"s":15,"y":0.871},{"x":68,"s":15,"y":0.86},{"x":69,"s":15,"y":0.842},{"x":70,"s":15,"y":0.852},{"x":71,"s":15,"y":0.86},{"x":72,"s":15,"y":0.878},{"x":73,"s":15,"y":0.872},{"x":74,"s":15,"y":0.874},{"x":75,"s":15,"y":0.886},{"x":76,"s":15,"y":0.878},{"x":77,"s":15,"y":0.877},{"x":78,"s":15,"y":0.887},{"x":79,"s":15,"y":0.89},{"x":80,"s":15,"y":0.893},{"x":81,"s":15,"y":0.897},{"x":82,"s":15,"y":0.895},{"x":83,"s":15,"y":0.899},{"x":84,"s":15,"y":0.898},{"x":85,"s":15,"y":0.9},{"x":86,"s":15,"y":0.897},{"x":87,"s":15,"y":0.908},{"x":88,"s":15,"y":0.907},{"x":89,"s":15,"y":0.906},{"x":90,"s":15,"y":0.91},{"x":91,"s":15,"y":0.91},{"x":92,"s":15,"y":0.912},{"x":93,"s":15,"y":0.915},{"x":94,"s":15,"y":0.915},{"x":95,"s":15,"y":0.917},{"x":96,"s":15,"y":0.917},{"x":97,"s":15,"y":0.918},{"x":98,"s":15,"y":0.918}
]},
"resolve":{"axis":{"x":"independent","y":"independent"}},
"layer":[
{"mark":{"type":"line","strokeWidth":1.3,"clip":true},
"encoding":{
"x":{"field":"x","type":"quantitative","scale":{"domain":[-0.44,100.44],"nice":false,"zero":false},"axis":{"values":[0,20,40,60,80,100],"tickSize":-5,"labelPadding":14,"title":"扫描点","titleFontSize":26,"titlePadding":0}},
"y":{"field":"y","type":"quantitative","scale":{"domain":[0.547,1.0],"nice":false,"zero":false},"axis":{"values":[0.6,0.7,0.8,0.9,1.0],"format":".1f","tickSize":-5,"labelPadding":12,"title":"相关系数","titleFontSize":24,"titlePadding":15,"titleY":153}},
"color":{"field":"s","type":"nominal","scale":{"domain":[1,2,3,4,5,6,7,8,9,10,11,12,13,14,15],"range":["#000000","#e8312a","#6ab437","#3a3d96","#70c6cb","#000000","#e8312a","#6ab437","#3a3d96","#70c6cb","#000000","#e8312a","#6ab437","#3a3d96","#70c6cb"]},
"legend":{"orient":"none","legendX":-69,"legendY":399,"direction":"horizontal","columns":5,"title":null,"symbolType":"M-1.7,0H1.7","symbolSize":400,"symbolStrokeWidth":1.3,"labelExpr":"'通道 ' + datum.label","columnPadding":8,"rowPadding":-4.5,"labelOffset":10}},
"strokeDash":{"field":"s","type":"nominal","scale":{"domain":[1,2,3,4,5,6,7,8,9,10,11,12,13,14,15],"range":[[1,0],[1,0],[1,0],[1,0],[1,0],[4,3],[4,3],[4,3],[4,3],[4,3],[7,2,2,2],[7,2,2,2],[7,2,2,2],[7,2,2,2],[7,2,2,2]]}}
}},
{"mark":{"type":"point","opacity":0},
"encoding":{
"x":{"field":"x","type":"quantitative","axis":{"orient":"bottom","values":[10,30,50,70,90],"tickSize":-3,"labels":false,"domain":false,"title":null}},
"y":{"field":"y","type":"quantitative","axis":{"orient":"left","values":[0.65,0.75,0.85,0.95],"tickSize":-3,"labels":false,"domain":false,"title":null}}
}}
]
}
